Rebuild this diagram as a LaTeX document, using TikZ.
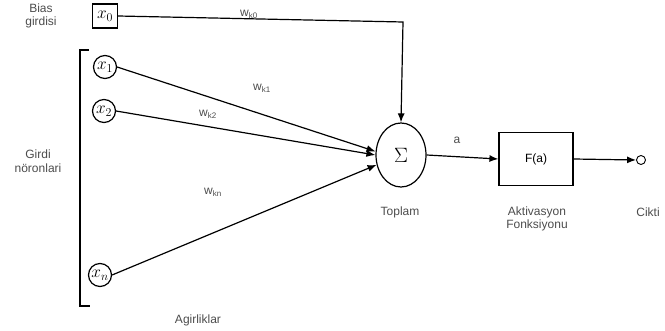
\documentclass[tikz,border=0pt]{standalone}
\usepackage{fontspec}
\setmainfont{Liberation Sans}
\usetikzlibrary{arrows.meta,shapes.geometric}
\begin{document}
\begin{tikzpicture}[x=1pt, y=-1pt, line width=1.2pt, font=\fontsize{12}{13.5}\selectfont,
    >={Latex[length=9pt,width=7pt]},
    neuron/.style={draw, circle, minimum size=23pt, inner sep=0pt, font=\fontsize{17}{18}\selectfont},
    lbl/.style={text=black!70, align=center}]
    \useasboundingbox (0,0) rectangle (665,331);

    % Bias input
    \node[lbl] (biaslbl) at (41,16) {Bias\\girdisi};
    \node[draw, minimum width=25pt, minimum height=24pt, inner sep=0pt, font=\fontsize{17}{18}\selectfont] (x0) at (105,16) {$x_0$};

    % Input neurons and bracket
    \node[neuron] (x1) at (105,67) {$x_1$};
    \node[neuron] (x2) at (104,111) {$x_2$};
    \node[neuron] (xn) at (100,275) {$x_n$};
    \draw (89,50) -- (80,50) -- (80,306) -- (90,306);
    \node[lbl] (girdi) at (38,161) {Girdi\\n\"oronlari};

    % Sum and activation
    \node[draw, ellipse, minimum width=50pt, minimum height=64pt, inner sep=0pt, font=\fontsize{22}{24}\selectfont] (sum) at (401,155) {$\Sigma$};
    \node[draw, minimum width=74pt, minimum height=53pt, inner sep=0pt] (act) at (536,159) {F(a)};
    \node[draw, circle, minimum size=9pt, inner sep=0pt, line width=0.9pt] (out) at (641,160) {};
    \coordinate (corner) at (403,22);

    % Weighted connections
    \draw[->] (x0.east) -- (corner) -- (sum.north);
    \draw[->] (x1.east) -- (sum.172);
    \draw[->] (x2.east) -- (sum.180);
    \draw[->] (xn.east) -- (sum.202);
    \draw[->] (sum.east) -- (act.west);
    \draw[->] (act.east) -- (out.west);

    % Weights
    \node[lbl] (wk0) at (249,14) {w\textsubscript{k0}};
    \node[lbl] (wk1) at (262,88) {w\textsubscript{k1}};
    \node[lbl] (wk2) at (208,114) {w\textsubscript{k2}};
    \node[lbl] (wkn) at (213,192) {w\textsubscript{kn}};
    \node[lbl] (alb) at (457,140) {a};

    % Captions
    \node[lbl] (toplam) at (400,212) {Toplam};
    \node[lbl] (aktiv) at (537,219) {Aktivasyon\\Fonksiyonu};
    \node[lbl] (cikti) at (648,212) {Cikti};
    \node[lbl] (agir) at (198,320) {Agirliklar};
\end{tikzpicture}
\end{document}
